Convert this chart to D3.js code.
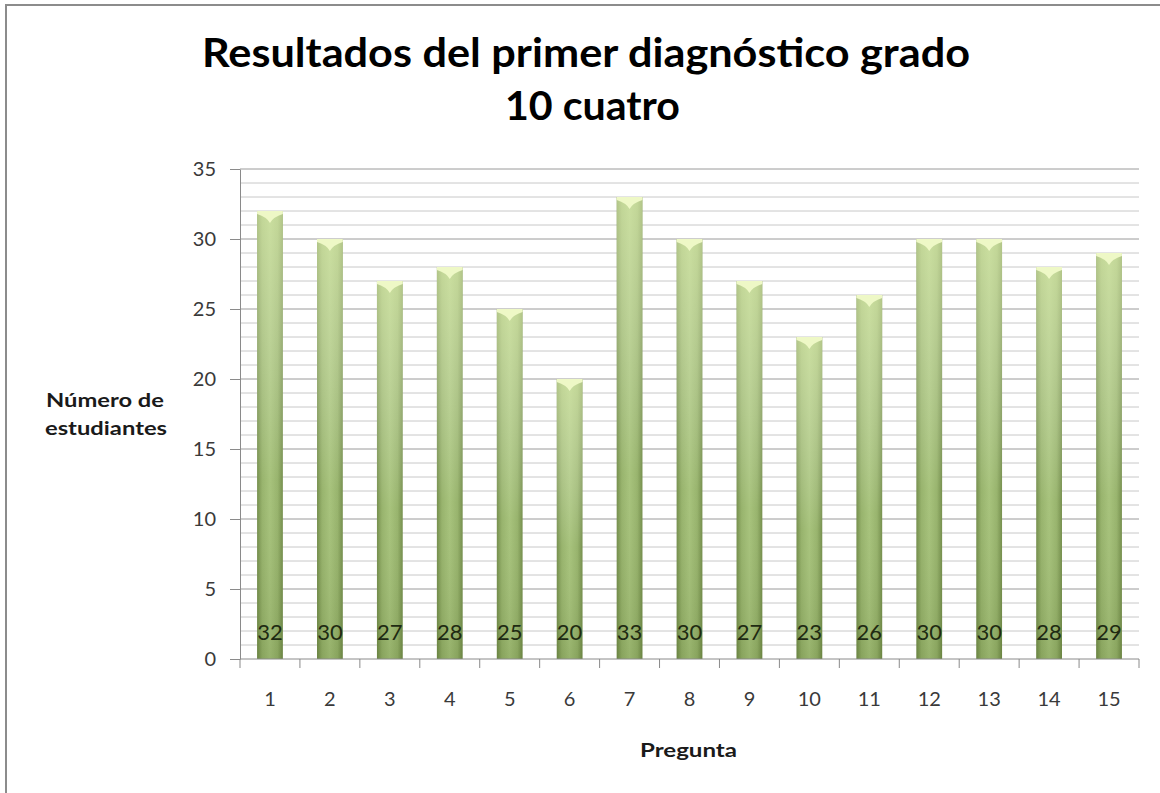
<!DOCTYPE html>
<html>
<head>
<meta charset="utf-8">
<script src="https://cdn.jsdelivr.net/npm/d3@7"></script>
<style>
  body { margin: 0; background: #fff; }
  text { font-family: Lato, "Noto Sans", sans-serif; }
</style>
</head>
<body>
<div id="chart"></div>
<script>
// data
let preguntas = ["1","2","3","4","5","6","7","8","9","10","11","12","13","14","15"];
let estudiantes = [32, 30, 27, 28, 25, 20, 33, 30, 27, 23, 26, 30, 30, 28, 29];
let yTicks = [0, 5, 10, 15, 20, 25, 30, 35];

let width = 1160, height = 793;
let plot = {left: 240, right: 1139, top: 169, bottom: 659};

let svg = d3.select("#chart").append("svg")
  .attr("width", width)
  .attr("height", height);

// bar gradients
let defs = svg.append("defs");
let hGrad = defs.append("linearGradient").attr("id", "barH")
  .attr("x1", 0).attr("x2", 1).attr("y1", 0).attr("y2", 0);
hGrad.append("stop").attr("offset", "0%").attr("stop-color", "#6f8a45");
hGrad.append("stop").attr("offset", "20%").attr("stop-color", "#93b066");
hGrad.append("stop").attr("offset", "50%").attr("stop-color", "#a3c076");
hGrad.append("stop").attr("offset", "80%").attr("stop-color", "#93b066");
hGrad.append("stop").attr("offset", "100%").attr("stop-color", "#6f8a45");

let vGrad = defs.append("linearGradient").attr("id", "barV")
  .attr("x1", 0).attr("x2", 0).attr("y1", 0).attr("y2", 1);
vGrad.append("stop").attr("offset", "0%").attr("stop-color", "#eaf7c0").attr("stop-opacity", 0.55);
vGrad.append("stop").attr("offset", "60%").attr("stop-color", "#ffffff").attr("stop-opacity", 0.05);
vGrad.append("stop").attr("offset", "100%").attr("stop-color", "#3a4a20").attr("stop-opacity", 0.12);

// outer frame
svg.append("rect")
  .attr("x", 6).attr("y", 5)
  .attr("width", width + 20).attr("height", height + 20)
  .attr("fill", "none")
  .attr("stroke", "#8c8c8c")
  .attr("stroke-width", 2);

let x = d3.scaleBand()
  .domain(preguntas)
  .range([plot.left, plot.right])
  .paddingInner(0.57)
  .paddingOuter(0.285);

let y = d3.scaleLinear()
  .domain([0, 35])
  .range([plot.bottom, plot.top]);

//--------------------------------------------------
// gridlines: minor every 1, major every 5
//--------------------------------------------------
svg.append("g").selectAll("line")
  .data(d3.range(1, 36))
  .enter()
  .append("line")
  .attr("x1", plot.left).attr("x2", plot.right)
  .attr("y1", d => y(d)).attr("y2", d => y(d))
  .attr("stroke", d => d % 5 == 0 ? "#9a9a9a" : "#c8c8c8")
  .attr("stroke-width", 1);

//--------------------------------------------------
// bars
//--------------------------------------------------
let bars = svg.append("g").selectAll("g")
  .data(estudiantes)
  .enter()
  .append("g");

bars.append("rect")
  .attr("x", (d, i) => x(preguntas[i]))
  .attr("y", d => y(d))
  .attr("width", x.bandwidth())
  .attr("height", d => plot.bottom - y(d))
  .style("fill", "url(#barH)");

bars.append("rect")
  .attr("x", (d, i) => x(preguntas[i]))
  .attr("y", d => y(d))
  .attr("width", x.bandwidth())
  .attr("height", d => plot.bottom - y(d))
  .style("fill", "url(#barV)");

// light cap on top of each bar
bars.append("path")
  .attr("d", (d, i) => {
    let x0 = x(preguntas[i]), w = x.bandwidth(), t = y(d);
    return `M${x0},${t} L${x0 + w},${t} L${x0 + w},${t + 3} Q${x0 + w * 0.62},${t + 6} ${x0 + w / 2},${t + 12} Q${x0 + w * 0.38},${t + 6} ${x0},${t + 3} Z`;
  })
  .attr("fill", "#eef8c6");

// value labels at the foot of the bars
bars.append("text")
  .attr("x", (d, i) => x(preguntas[i]) + x.bandwidth() / 2)
  .attr("y", plot.bottom - 19)
  .attr("text-anchor", "middle")
  .attr("font-size", 22)
  .attr("fill", "#1e2a12")
  .text(d => d);

//--------------------------------------------------
// axes
//--------------------------------------------------
let yAxis = svg.append("g")
  .attr("transform", `translate(${plot.left},0)`)
  .call(d3.axisLeft(y).tickValues(yTicks).tickSize(10).tickPadding(14).tickSizeOuter(0));
yAxis.select(".domain").attr("stroke", "#8a8a8a");
yAxis.selectAll(".tick line").attr("stroke", "#8a8a8a");
yAxis.selectAll("text").attr("font-size", 20).attr("fill", "#3a3a3a");

let xAxis = svg.append("g")
  .attr("transform", `translate(0,${plot.bottom})`)
  .call(d3.axisBottom(x).tickSize(0).tickPadding(33).tickSizeOuter(0));
xAxis.select(".domain").remove();
xAxis.selectAll("text").attr("font-size", 20).attr("fill", "#3a3a3a");

svg.append("line")
  .attr("x1", plot.left).attr("x2", plot.right)
  .attr("y1", plot.bottom).attr("y2", plot.bottom)
  .attr("stroke", "#8a8a8a");

// boundary ticks between categories
svg.append("g").selectAll("line")
  .data(d3.range(preguntas.length + 1))
  .enter()
  .append("line")
  .attr("x1", i => plot.left + i * x.step())
  .attr("x2", i => plot.left + i * x.step())
  .attr("y1", plot.bottom).attr("y2", plot.bottom + 9)
  .attr("stroke", "#8a8a8a");

//--------------------------------------------------
// titles
//--------------------------------------------------
let title = svg.append("g")
  .attr("font-size", 40)
  .attr("font-weight", "bold")
  .attr("fill", "#000");
title.append("text").attr("x", 202).attr("y", 67)
  .attr("textLength", 768).attr("lengthAdjust", "spacingAndGlyphs")
  .text("Resultados del primer diagnóstico grado");
title.append("text").attr("x", 505).attr("y", 120)
  .attr("textLength", 175).attr("lengthAdjust", "spacingAndGlyphs")
  .text("10 cuatro");

let yLabel = svg.append("g")
  .attr("font-size", 18)
  .attr("font-weight", "bold")
  .attr("fill", "#1a1a1a");
yLabel.append("text").attr("x", 46).attr("y", 407)
  .attr("textLength", 118).attr("lengthAdjust", "spacingAndGlyphs")
  .text("Número de");
yLabel.append("text").attr("x", 45).attr("y", 435)
  .attr("textLength", 122).attr("lengthAdjust", "spacingAndGlyphs")
  .text("estudiantes");

svg.append("text")
  .attr("x", 640)
  .attr("y", 757)
  .attr("font-size", 19)
  .attr("font-weight", "bold")
  .attr("fill", "#1a1a1a")
  .attr("textLength", 97).attr("lengthAdjust", "spacingAndGlyphs")
  .text("Pregunta");
</script>
</body>
</html>
